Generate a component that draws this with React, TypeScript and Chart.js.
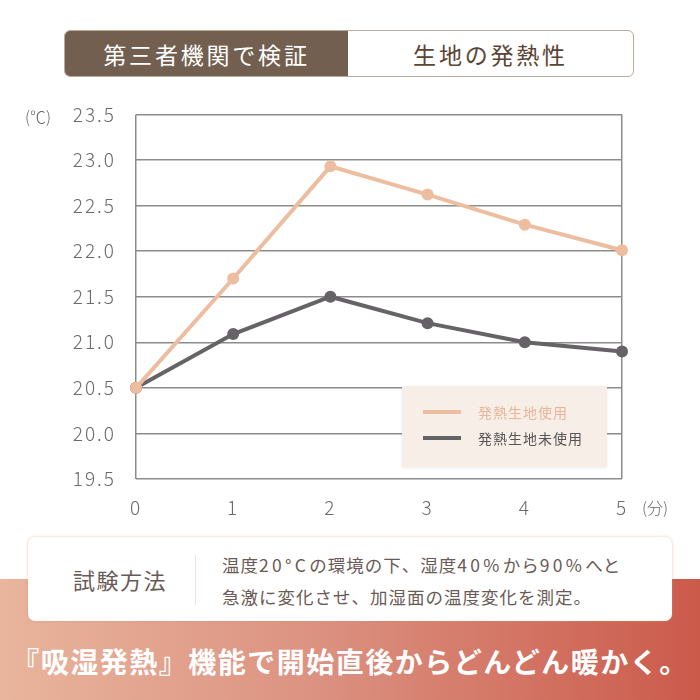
import React, { useEffect, useRef } from "react";
import { Chart, registerables } from "chart.js";

Chart.register(...registerables);

const minutes = [0, 1, 2, 3, 4, 5];
const withFabric = [20.5, 21.7, 22.93, 22.62, 22.29, 22.01];
const withoutFabric = [20.5, 21.09, 21.5, 21.21, 21.0, 20.9];
const seriesNames = ["発熱生地使用", "発熱生地未使用"];
const seriesColors = ["#EDBD9F", "#666366"];
const legendTextColors = ["#E8B597", "#555555"];
const yTicks = { min: 19.5, max: 23.5, step: 0.5 };

const FONT = '"Noto Sans CJK JP", "Noto Sans", sans-serif';

const spacingPlugin = {
  id: "spacing",
  beforeDraw(chart: any) {
    try {
      chart.ctx.letterSpacing = "2px";
    } catch (e) {}
  },
  beforeLayout(chart: any) {
    try {
      chart.ctx.letterSpacing = "2px";
    } catch (e) {}
  },
};

export default function App() {
  const canvasRef = useRef<HTMLCanvasElement | null>(null);

  useEffect(() => {
    const canvas = canvasRef.current;
    if (!canvas) return;
    const mk = (arr: number[]) => minutes.map((m, i) => ({ x: m, y: arr[i] }));
    const chart = new Chart(canvas, {
      type: "line",
      data: {
        datasets: [
          {
            label: seriesNames[0],
            data: mk(withFabric),
            borderColor: seriesColors[0],
            backgroundColor: seriesColors[0],
            borderWidth: 4,
            pointRadius: 6,
            pointBorderWidth: 0,
            tension: 0,
            clip: false as any,
          },
          {
            label: seriesNames[1],
            data: mk(withoutFabric),
            borderColor: seriesColors[1],
            backgroundColor: seriesColors[1],
            borderWidth: 4,
            pointRadius: 6,
            pointBorderWidth: 0,
            tension: 0,
            clip: false as any,
          },
        ],
      },
      plugins: [spacingPlugin],
      options: {
        animation: false,
        responsive: false,
        maintainAspectRatio: false,
        devicePixelRatio: 1,
        events: [],
        layout: { padding: { top: 0, right: 78, left: 0, bottom: 0 } },
        plugins: { legend: { display: false }, tooltip: { enabled: false } },
        scales: {
          x: {
            type: "linear",
            min: 0,
            max: 5,
            ticks: {
              stepSize: 1,
              padding: 17,
              color: "#6a6a6a",
              font: { family: FONT, size: 19, weight: 300 as any },
            },
            grid: {
              drawTicks: false,
              lineWidth: 1.5,
              color: (ctx: any) =>
                ctx.tick && (ctx.tick.value === 0 || ctx.tick.value === 5) ? "#8c8c8c" : "rgba(0,0,0,0)",
            },
            border: { display: false },
            afterFit: (s: any) => {
              s.height = 51;
            },
          },
          y: {
            min: yTicks.min,
            max: yTicks.max,
            ticks: {
              stepSize: yTicks.step,
              padding: 20,
              color: "#6a6a6a",
              font: { family: FONT, size: 19, weight: 300 as any },
              callback: (v: any) => Number(v).toFixed(1),
            },
            grid: { drawTicks: false, lineWidth: 1.5, color: "#8c8c8c" },
            border: { display: false },
            afterFit: (s: any) => {
              s.width = 136;
            },
          },
        },
      },
    });
    return () => chart.destroy();
  }, []);

  const wide = { letterSpacing: 3.3 };

  return (
    <div
      style={{
        position: "absolute",
        left: 0,
        top: 0,
        width: 700,
        height: 700,
        background: "#ffffff",
        overflow: "hidden",
        fontFamily: FONT,
      }}
    >
      {/* header */}
      <div
        style={{
          position: "absolute",
          left: 64,
          top: 30,
          width: 570,
          height: 47,
          border: "1px solid #b9aa9d",
          borderRadius: 6,
          overflow: "hidden",
          boxSizing: "border-box",
          display: "flex",
        }}
      >
        <div
          style={{
            width: 283,
            background: "#735f4f",
            color: "#ffffff",
            fontSize: 23,
            letterSpacing: 2.8,
            display: "flex",
            alignItems: "center",
            justifyContent: "center",
          }}
        >
          第三者機関で検証
        </div>
        <div
          style={{
            flex: 1,
            color: "#5a4535",
            fontSize: 23,
            letterSpacing: 2.8,
            display: "flex",
            alignItems: "center",
            justifyContent: "center",
          }}
        >
          生地の発熱性
        </div>
      </div>

      {/* chart */}
      <div style={{ position: "absolute", left: 0, top: 83, width: 700, height: 447 }}>
        <canvas ref={canvasRef} width={700} height={447} style={{ width: 700, height: 447, display: "block" }} />
      </div>

      <div style={{ position: "absolute", left: 25, top: 104, fontSize: 16, color: "#666", fontWeight: 300 }}>(℃)</div>
      <div style={{ position: "absolute", left: 642, top: 495, fontSize: 16, color: "#666", fontWeight: 300 }}>(分)</div>

      {/* legend */}
      <div
        style={{
          position: "absolute",
          left: 402,
          top: 386,
          width: 205,
          height: 81,
          background: "#f8eee8",
          boxShadow: "0 1px 3px rgba(0,0,0,0.08)",
        }}
      >
        {seriesNames.map((n, i) => (
          <div
            key={n}
            style={{ position: "absolute", left: 21, top: 16 + i * 26, height: 20, display: "flex", alignItems: "center" }}
          >
            <div style={{ width: 38, height: 4, background: seriesColors[i] }} />
            <div style={{ marginLeft: 17, fontSize: 14, color: legendTextColors[i], letterSpacing: 1 }}>{n}</div>
          </div>
        ))}
      </div>

      {/* bottom gradient */}
      <div
        style={{
          position: "absolute",
          left: 0,
          top: 579,
          width: 700,
          height: 121,
          background: "linear-gradient(90deg, #e9b59c 0%, #dc9281 45%, #cb5a4b 100%)",
        }}
      />

      {/* method box */}
      <div
        style={{
          position: "absolute",
          left: 28,
          top: 537,
          width: 644,
          height: 84,
          background: "#ffffff",
          borderRadius: 7,
          boxShadow: "0 0 3px rgba(220,140,110,0.55)",
        }}
      >
        <div
          style={{
            position: "absolute",
            left: 45,
            top: 0,
            height: 84,
            display: "flex",
            alignItems: "center",
            fontSize: 22,
            letterSpacing: 1.5,
            color: "#6a5a56",
          }}
        >
          試験方法
        </div>
        <div style={{ position: "absolute", left: 167, top: 18, width: 1, height: 50, background: "#efe3dc" }} />
        <div
          style={{
            position: "absolute",
            left: 194,
            top: 12,
            fontSize: 17.5,
            lineHeight: "32px",
            letterSpacing: 1,
            color: "#6a5a56",
            whiteSpace: "nowrap",
          }}
        >
          温度<span style={wide}>20°C</span>の環境の下、湿度<span style={wide}>40%</span>から<span style={wide}>90%</span>へと
          <br />
          急激に変化させ、加湿面の温度変化を測定。
        </div>
      </div>

      {/* bottom slogan */}
      <div
        style={{
          position: "absolute",
          left: 0,
          top: 641,
          width: 700,
          textAlign: "center",
          fontSize: 28,
          fontWeight: 700,
          letterSpacing: 1.5,
          color: "#ffffff",
          lineHeight: "40px",
          whiteSpace: "nowrap",
        }}
      >
        『吸湿発熱』機能で開始直後からどんどん暖かく。
      </div>
    </div>
  );
}
